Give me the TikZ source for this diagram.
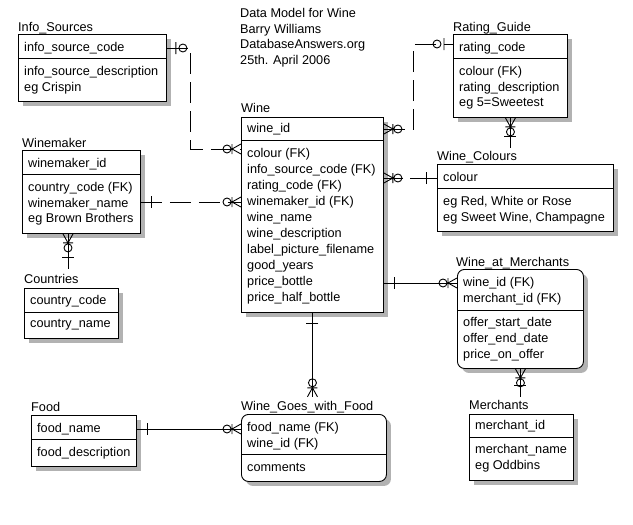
\documentclass[tikz,border=0pt]{standalone}
\usepackage{fontspec}
\setmainfont{Liberation Sans}
\usetikzlibrary{shadows,calc}

\tikzset{
  entity/.style={draw, fill=white, line width=0.9pt, anchor=north west, inner sep=0pt,
    drop shadow={shadow xshift=4.5pt, shadow yshift=-4.5pt, fill=gray!60, opacity=1}},
  weak/.style={entity, rounded corners=7pt},
  etitle/.style={anchor=base west, inner sep=0pt, text height=9pt, text depth=3pt},
  field/.style={etitle},
  rel/.style={line width=0.9pt},
  nonid/.style={rel, dash pattern=on 21pt off 8pt},
  zeromany/.pic={\draw[rel] (0,-5) -- (9,0) -- (0,5) (9,-5) -- (9,5) (14,0) circle (4pt);},
  zeroone/.pic={\draw[rel] (9,-6) -- (9,6) (16,0) circle (4pt);},
  onebar/.pic={\draw[rel] (11,-6) -- (11,6);}
}

\begin{document}
\begin{tikzpicture}[x=1pt, y=-1pt, font=\fontsize{12.7}{15.6}\selectfont]
                \path[fill=white] (0,0) rectangle (633,525);
                \useasboundingbox (0,0) rectangle (633,525);

                \node[anchor=north west, align=left, inner sep=0pt] (heading) at (240,8) {Data Model for Wine\\Barry Williams\\DatabaseAnswers.org\\25th. April 2006};

                \node[entity, minimum width=148pt, minimum height=67pt] (infosrc) at (18,34) {};
                \node[etitle] (infosrc-t) at (18,31) {Info\_Sources};
                \draw[rel] (18,58) -- (166,58);
                \node[field] (infosrc-k1) at (24,51) {info\_source\_code};
                \node[field] (infosrc-a1) at (24,75) {info\_source\_description};
                \node[field] (infosrc-a2) at (24,91) {eg Crispin};

                \node[entity, minimum width=118pt, minimum height=83pt] (winemaker) at (22,150) {};
                \node[etitle] (winemaker-t) at (22,147) {Winemaker};
                \draw[rel] (22,174) -- (140,174);
                \node[field] (winemaker-k1) at (28,167) {winemaker\_id};
                \node[field] (winemaker-a1) at (28,191) {country\_code (FK)};
                \node[field] (winemaker-a2) at (28,207) {winemaker\_name};
                \node[field] (winemaker-a3) at (28,222) {eg Brown Brothers};

                \node[entity, minimum width=94pt, minimum height=50pt] (countries) at (24,288) {};
                \node[etitle] (countries-t) at (24,283) {Countries};
                \draw[rel] (24,312) -- (118,312);
                \node[field] (countries-k1) at (30,304) {country\_code};
                \node[field] (countries-a1) at (30,327) {country\_name};

                \node[entity, minimum width=105pt, minimum height=51pt] (food) at (31,415) {};
                \node[etitle] (food-t) at (31,411) {Food};
                \draw[rel] (31,439) -- (136,439);
                \node[field] (food-k1) at (37,432) {food\_name};
                \node[field] (food-a1) at (37,456) {food\_description};

                \node[entity, minimum width=142pt, minimum height=195pt] (wine) at (241,117) {};
                \node[etitle] (wine-t) at (241,112) {Wine};
                \draw[rel] (241,140) -- (383,140);
                \node[field] (wine-k1) at (247,132) {wine\_id};
                \foreach \f [count=\i] in {colour (FK), info\_source\_code (FK), rating\_code (FK),
                    winemaker\_id (FK), wine\_name, wine\_description, label\_picture\_filename,
                    good\_years, price\_bottle, price\_half\_bottle}
                    \node[field] (wine-a\i) at (247,141+16*\i) {\f};

                \node[weak, minimum width=145pt, minimum height=67pt] (wgf) at (241,414) {};
                \node[etitle] (wgf-t) at (241,410) {Wine\_Goes\_with\_Food};
                \draw[rel] (241,454) -- (386,454);
                \node[field] (wgf-k1) at (247,431) {food\_name (FK)};
                \node[field] (wgf-k2) at (247,447) {wine\_id (FK)};
                \node[field] (wgf-a1) at (247,471) {comments};

                \node[entity, minimum width=114pt, minimum height=83pt] (rating) at (453,34) {};
                \node[etitle] (rating-t) at (453,31) {Rating\_Guide};
                \draw[rel] (453,58) -- (567,58);
                \node[field] (rating-k1) at (459,51) {rating\_code};
                \node[field] (rating-a1) at (459,75) {colour (FK)};
                \node[field] (rating-a2) at (459,91) {rating\_description};
                \node[field] (rating-a3) at (459,106) {eg 5=Sweetest};

                \node[entity, minimum width=176pt, minimum height=67pt] (colours) at (437,164) {};
                \node[etitle] (colours-t) at (437,160) {Wine\_Colours};
                \draw[rel] (437,188) -- (613,188);
                \node[field] (colours-k1) at (443,181) {colour};
                \node[field] (colours-a1) at (443,205) {eg Red, White or Rose};
                \node[field] (colours-a2) at (443,221) {eg Sweet Wine, Champagne};

                \node[weak, minimum width=126pt, minimum height=99pt] (wam) at (457,269) {};
                \node[etitle] (wam-t) at (456,266) {Wine\_at\_Merchants};
                \draw[rel] (457,310) -- (583,310);
                \node[field] (wam-k1) at (463,286) {wine\_id (FK)};
                \node[field] (wam-k2) at (463,302) {merchant\_id (FK)};
                \node[field] (wam-a1) at (463,326) {offer\_start\_date};
                \node[field] (wam-a2) at (463,342) {offer\_end\_date};
                \node[field] (wam-a3) at (463,358) {price\_on\_offer};

                \node[entity, minimum width=104pt, minimum height=66pt] (merchants) at (469,414) {};
                \node[etitle] (merchants-t) at (469,409) {Merchants};
                \draw[rel] (469,437) -- (573,437);
                \node[field] (merchants-k1) at (475,429) {merchant\_id};
                \node[field] (merchants-a1) at (475,453) {merchant\_name};
                \node[field] (merchants-a2) at (475,469) {eg Oddbins};

                \coordinate (wm-c) at ($(winemaker.south west)+(46,0)$);
                \coordinate (co-c) at ($(wm-c |- countries-t.north)+(0,-5)$);
                \coordinate (wgf-c) at ($(wine.south |- wgf-t.north)+(0,-4)$);
                \coordinate (colours-c) at ($(rating.south |- colours-t.north)+(0,-3)$);
                \coordinate (merchants-c) at ($(wam.south |- merchants-t.north)+(0,-3)$);
                \coordinate (wine-is) at ($(wine.west |- wine-a1)+(0,-5)$);
                \coordinate (rating-w) at ($(rating.west |- rating-k1)+(0,-4)$);

                \draw[nonid] (infosrc.east |- infosrc-k1) -- +(24,0) |- (wine-is);
                \pic at (infosrc.east |- infosrc-k1) {zeroone};
                \pic[rotate=180] at (wine-is) {zeromany};

                \draw[nonid] (winemaker.east |- wine-a4) -- (wine.west |- wine-a4);
                \pic at (winemaker.east |- wine-a4) {onebar};
                \pic[rotate=180] at (wine.west |- wine-a4) {zeromany};

                \draw[nonid] (wine.east |- wine-k1) -- +(30,0) |- (rating-w);
                \pic at (wine.east |- wine-k1) {zeromany};
                \pic[rotate=180] at (rating-w) {zeroone};

                \draw[rel, dash pattern=on 27pt off 7pt] (colours.west |- colours-k1) -- (wine.east |- colours-k1);
                \pic at (wine.east |- colours-k1) {zeromany};
                \pic[rotate=180] at (colours.west |- colours-k1) {onebar};

                \draw[rel] (wine.east |- wam-k1) -- (wam.west |- wam-k1);
                \pic at (wine.east |- wam-k1) {onebar};
                \pic[rotate=180] at (wam.west |- wam-k1) {zeromany};

                \draw[rel] (food.east |- food-k1) -- (wgf.west |- food-k1);
                \pic at (food.east |- food-k1) {onebar};
                \pic[rotate=180] at (wgf.west |- food-k1) {zeromany};

                \draw[rel] (wine.south) -- (wgf-c);
                \pic[rotate=-90] at (wine.south) {onebar};
                \pic[rotate=90] at (wgf-c) {zeromany};

                \draw[rel] (wm-c) -- (co-c);
                \pic[rotate=-90] at (wm-c) {zeromany};
                \pic[rotate=90] at (co-c) {onebar};

                \draw[rel] (rating.south) -- (colours-c);
                \pic[rotate=-90] at (rating.south) {zeromany};
                \pic[rotate=90] at (colours-c) {onebar};

                \draw[rel] (wam.south) -- (merchants-c);
                \pic[rotate=-90] at (wam.south) {zeromany};
                \pic[rotate=90] at (merchants-c) {onebar};
\end{tikzpicture}
\end{document}
